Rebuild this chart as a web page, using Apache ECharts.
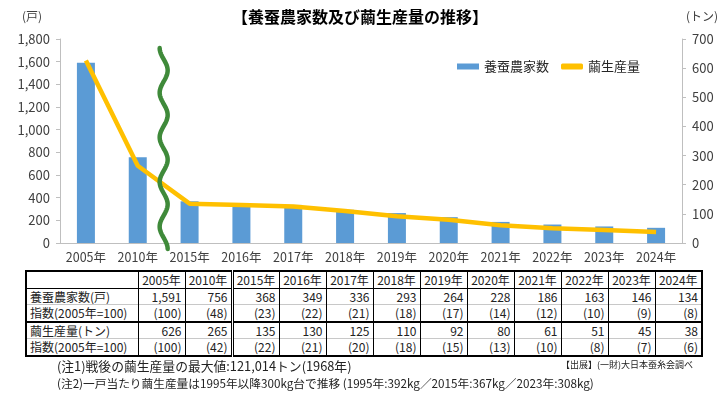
<!DOCTYPE html>
<html>
<head>
<meta charset="utf-8">
<script src="https://cdn.jsdelivr.net/npm/echarts@6/dist/echarts.min.js"></script>
<style>
html, body { margin: 0; padding: 0; background: #fff; }
#wrap { position: relative; width: 720px; height: 397px; font-family: "Noto Sans CJK JP", sans-serif; color: #222; }
#chart { position: absolute; left: 0; top: 0; width: 720px; height: 397px; }
#tbl { position: absolute; left: 25px; top: 270px; border-collapse: collapse; border: 2px solid #000; font-size: 12px; table-layout: fixed; background: #fff; }
#tbl td { height: 15.6px; line-height: 15.6px; padding: 0 3px; border-left: 1px solid #000; border-right: 1px solid #000; white-space: nowrap; text-align: right; overflow: hidden; }
#tbl td.lbl { text-align: left; }
#tbl tr.head td { text-align: center; border-bottom: 1px solid #000; }
#tbl tr.sub td { border-top: 1px solid #c8c8c8; }
#tbl tr.grp td { border-top: 2px solid #000; }
#tbl td.brk { border-left: 3px double #000; }
.note { position: absolute; left: 57px; line-height: 14px; color: #222; white-space: nowrap; }
.src { position: absolute; right: 27px; top: 359px; font-size: 9px; line-height: 12px; color: #222; white-space: nowrap; }
</style>
</head>
<body>
<div id="wrap">
  <div id="chart"></div>
  <table id="tbl"></table>
  <div class="note" style="top:359px;font-size:12.8px">(注1)戦後の繭生産量の最大値:121,014トン(1968年)</div>
  <div class="note" style="top:376px;font-size:11.7px">(注2)一戸当たり繭生産量は1995年以降300kg台で推移 (1995年:392kg／2015年:367kg／2023年:308kg)</div>
  <div class="src">【出展】(一財)大日本蚕糸会調べ</div>
</div>
<script>
const years = ['2005年', '2010年', '2015年', '2016年', '2017年', '2018年', '2019年', '2020年', '2021年', '2022年', '2023年', '2024年']
// 養蚕農家数（戸）
const households = [1591, 756, 368, 349, 336, 293, 264, 228, 186, 163, 146, 134]
const householdIndex = [100, 48, 23, 22, 21, 18, 17, 14, 12, 10, 9, 8]
// 繭生産量（トン）
const cocoon = [626, 265, 135, 130, 125, 110, 92, 80, 61, 51, 45, 38]
const cocoonIndex = [100, 42, 22, 21, 20, 18, 15, 13, 10, 8, 7, 6]

const rowLabels = ['養蚕農家数(戸)', '指数(2005年=100)', '繭生産量(トン)', '指数(2005年=100)']

const FONT = '"Noto Sans CJK JP", sans-serif'
const fmt = v => v.toLocaleString('en-US')

// table under the chart
const buildTable = () => {
  const tbl = document.getElementById('tbl')
  let html = '<colgroup><col style="width:112px">' + years.map(() => '<col style="width:47px">').join('') + '</colgroup>'
  html += '<tr class="head"><td class="lbl"></td>' + years.map((y, i) => `<td${i === 2 ? ' class="brk"' : ''}>${y}</td>`).join('') + '</tr>'
  const rows = [
    { cls: '', vals: households.map(fmt) },
    { cls: 'sub', vals: householdIndex.map(v => `(${v})`) },
    { cls: 'grp', vals: cocoon.map(fmt) },
    { cls: 'sub', vals: cocoonIndex.map(v => `(${v})`) }
  ]
  rows.forEach((r, ri) => {
    html += `<tr class="${r.cls}"><td class="lbl">${rowLabels[ri]}</td>` +
      r.vals.map((v, i) => `<td${i === 2 ? ' class="brk"' : ''}>${v}</td>`).join('') + '</tr>'
  })
  tbl.innerHTML = html
}
buildTable()

const chart = echarts.init(document.getElementById('chart'))

const axisLabelStyle = { color: '#404040', fontSize: 13, fontFamily: FONT }

const option = {
  animation: false,
  backgroundColor: 'transparent',
  textStyle: { fontFamily: FONT },
  title: {
    text: '【養蚕農家数及び繭生産量の推移】',
    left: 'center',
    top: 4,
    textStyle: { fontSize: 16, fontWeight: 'bold', color: '#000', fontFamily: FONT }
  },
  legend: {
    left: 452,
    top: 55,
    itemWidth: 22,
    itemHeight: 6,
    itemGap: 12,
    textStyle: { fontSize: 13, color: '#262626', fontFamily: FONT },
    data: [{ name: '養蚕農家数', icon: 'rect' }, { name: '繭生産量', icon: 'roundRect' }]
  },
  grid: { left: 60, right: 38, top: 39, bottom: 154 },
  xAxis: {
    type: 'category',
    data: years,
    axisLine: { lineStyle: { color: '#bfbfbf' } },
    axisTick: { show: false },
    axisLabel: { ...axisLabelStyle, fontSize: 12.5, margin: 8, interval: 0, hideOverlap: false }
  },
  yAxis: [{
    type: 'value',
    min: 0,
    max: 1800,
    interval: 200,
    axisLine: { show: true, lineStyle: { color: '#bfbfbf' } },
    axisTick: { show: true, length: 4, lineStyle: { color: '#bfbfbf' } },
    splitLine: { show: false },
    axisLabel: { ...axisLabelStyle, margin: 10, formatter: fmt }
  }, {
    type: 'value',
    position: 'right',
    min: 0,
    max: 700,
    interval: 100,
    axisLine: { show: true, lineStyle: { color: '#bfbfbf' } },
    axisTick: { show: true, length: 4, lineStyle: { color: '#bfbfbf' } },
    splitLine: { show: false },
    axisLabel: { ...axisLabelStyle, margin: 10 }
  }],
  series: [{
    name: '養蚕農家数',
    type: 'bar',
    data: households,
    barWidth: 18,
    itemStyle: { color: '#5b9bd5' }
  }, {
    name: '繭生産量',
    type: 'line',
    yAxisIndex: 1,
    data: cocoon,
    symbol: 'none',
    z: 3,
    lineStyle: { width: 4.5, color: '#ffc000' },
    itemStyle: { color: '#ffc000' }
  }]
}

chart.setOption(option)

// axis unit labels + the wavy "break" mark between 2010 and 2015
const x1 = chart.convertToPixel({ xAxisIndex: 0 }, years[1])
const x2 = chart.convertToPixel({ xAxisIndex: 0 }, years[2])
const cx = (x1 + x2) / 2
const yTop = chart.convertToPixel({ yAxisIndex: 0 }, 1720)
const yBot = chart.convertToPixel({ yAxisIndex: 0 }, 0) + 6
const pts = []
for (let i = 0; i <= 160; i++) {
  const t = i / 160
  pts.push([cx - 4 * Math.cos(2 * Math.PI * 4.5 * t), yTop + t * (yBot - yTop)])
}

chart.setOption({
  graphic: [{
    type: 'polyline',
    shape: { points: pts },
    style: { stroke: '#3f8a3a', lineWidth: 4.5, fill: null, lineCap: 'round', lineJoin: 'round' },
    z: 100
  }, {
    type: 'text',
    left: 22,
    top: 10,
    style: { text: '(戸)', fontSize: 12, fill: '#404040', fontFamily: FONT }
  }, {
    type: 'text',
    left: 686,
    top: 10,
    style: { text: '(トン)', fontSize: 12, fill: '#404040', fontFamily: FONT }
  }]
})
</script>
</body>
</html>
